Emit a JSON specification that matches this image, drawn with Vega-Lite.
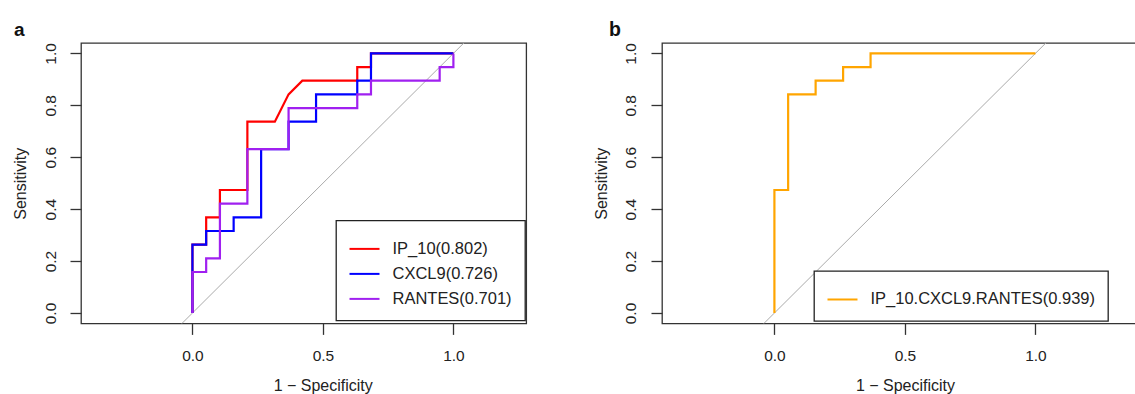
{
  "$schema": "https://vega.github.io/schema/vega-lite/v6.json",
  "background": "white",
  "padding": {"left": 12, "top": 19, "right": 0, "bottom": 0},
  "bounds": "flush",
  "spacing": 135,
  "config": {
    "font": "Liberation Sans",
    "view": {"stroke": "#333333", "strokeWidth": 1.3},
    "axis": {
      "domain": false,
      "grid": false,
      "tickColor": "#333333",
      "tickSize": 11,
      "tickWidth": 1.3,
      "labelFont": "Liberation Sans",
      "labelFontSize": 15.5,
      "labelColor": "#222222",
      "titleFont": "Liberation Sans",
      "titleFontSize": 16,
      "titleFontWeight": "normal",
      "titleColor": "#222222",
      "labelOverlap": false,
      "labelFlush": false
    },
    "legend": {
      "orient": "none",
      "fillColor": "white",
      "strokeColor": "#222222",
      "strokeWidth": 1.3,
      "padding": 12.5,
      "symbolType": "stroke",
      "symbolSize": 900,
      "symbolStrokeWidth": 2,
      "rowPadding": -5,
      "labelFont": "Liberation Sans",
      "labelFontSize": 16.5,
      "labelColor": "#222222",
      "labelOffset": 12,
      "labelLimit": 400
    }
  },
  "resolve": {"scale": {"x": "independent", "y": "independent", "color": "independent"}, "legend": {"color": "independent"}},
  "datasets": {
    "diag": [{"fpr": -0.2, "tpr": -0.2}, {"fpr": 1.3, "tpr": 1.3}],
    "curves": [
      {"series": "IP_10(0.802)", "i": 0, "fpr": 0, "tpr": 0},
      {"series": "IP_10(0.802)", "i": 1, "fpr": 0, "tpr": 0.2632},
      {"series": "IP_10(0.802)", "i": 2, "fpr": 0.0526, "tpr": 0.2632},
      {"series": "IP_10(0.802)", "i": 3, "fpr": 0.0526, "tpr": 0.3684},
      {"series": "IP_10(0.802)", "i": 4, "fpr": 0.1053, "tpr": 0.3684},
      {"series": "IP_10(0.802)", "i": 5, "fpr": 0.1053, "tpr": 0.4737},
      {"series": "IP_10(0.802)", "i": 6, "fpr": 0.2105, "tpr": 0.4737},
      {"series": "IP_10(0.802)", "i": 7, "fpr": 0.2105, "tpr": 0.7368},
      {"series": "IP_10(0.802)", "i": 8, "fpr": 0.3158, "tpr": 0.7368},
      {"series": "IP_10(0.802)", "i": 9, "fpr": 0.3684, "tpr": 0.8421},
      {"series": "IP_10(0.802)", "i": 10, "fpr": 0.4211, "tpr": 0.8947},
      {"series": "IP_10(0.802)", "i": 11, "fpr": 0.6316, "tpr": 0.8947},
      {"series": "IP_10(0.802)", "i": 12, "fpr": 0.6316, "tpr": 0.9474},
      {"series": "IP_10(0.802)", "i": 13, "fpr": 0.6842, "tpr": 0.9474},
      {"series": "IP_10(0.802)", "i": 14, "fpr": 0.6842, "tpr": 1},
      {"series": "IP_10(0.802)", "i": 15, "fpr": 1, "tpr": 1},
      {"series": "CXCL9(0.726)", "i": 0, "fpr": 0, "tpr": 0},
      {"series": "CXCL9(0.726)", "i": 1, "fpr": 0, "tpr": 0.2632},
      {"series": "CXCL9(0.726)", "i": 2, "fpr": 0.0526, "tpr": 0.2632},
      {"series": "CXCL9(0.726)", "i": 3, "fpr": 0.0526, "tpr": 0.3158},
      {"series": "CXCL9(0.726)", "i": 4, "fpr": 0.1579, "tpr": 0.3158},
      {"series": "CXCL9(0.726)", "i": 5, "fpr": 0.1579, "tpr": 0.3684},
      {"series": "CXCL9(0.726)", "i": 6, "fpr": 0.2632, "tpr": 0.3684},
      {"series": "CXCL9(0.726)", "i": 7, "fpr": 0.2632, "tpr": 0.6316},
      {"series": "CXCL9(0.726)", "i": 8, "fpr": 0.3684, "tpr": 0.6316},
      {"series": "CXCL9(0.726)", "i": 9, "fpr": 0.3684, "tpr": 0.7368},
      {"series": "CXCL9(0.726)", "i": 10, "fpr": 0.4737, "tpr": 0.7368},
      {"series": "CXCL9(0.726)", "i": 11, "fpr": 0.4737, "tpr": 0.8421},
      {"series": "CXCL9(0.726)", "i": 12, "fpr": 0.6316, "tpr": 0.8421},
      {"series": "CXCL9(0.726)", "i": 13, "fpr": 0.6316, "tpr": 0.8947},
      {"series": "CXCL9(0.726)", "i": 14, "fpr": 0.6842, "tpr": 0.8947},
      {"series": "CXCL9(0.726)", "i": 15, "fpr": 0.6842, "tpr": 1},
      {"series": "CXCL9(0.726)", "i": 16, "fpr": 1, "tpr": 1},
      {"series": "RANTES(0.701)", "i": 0, "fpr": 0, "tpr": 0},
      {"series": "RANTES(0.701)", "i": 1, "fpr": 0, "tpr": 0.1579},
      {"series": "RANTES(0.701)", "i": 2, "fpr": 0.0526, "tpr": 0.1579},
      {"series": "RANTES(0.701)", "i": 3, "fpr": 0.0526, "tpr": 0.2105},
      {"series": "RANTES(0.701)", "i": 4, "fpr": 0.1053, "tpr": 0.2105},
      {"series": "RANTES(0.701)", "i": 5, "fpr": 0.1053, "tpr": 0.4211},
      {"series": "RANTES(0.701)", "i": 6, "fpr": 0.2105, "tpr": 0.4211},
      {"series": "RANTES(0.701)", "i": 7, "fpr": 0.2105, "tpr": 0.6316},
      {"series": "RANTES(0.701)", "i": 8, "fpr": 0.3684, "tpr": 0.6316},
      {"series": "RANTES(0.701)", "i": 9, "fpr": 0.3684, "tpr": 0.7895},
      {"series": "RANTES(0.701)", "i": 10, "fpr": 0.6316, "tpr": 0.7895},
      {"series": "RANTES(0.701)", "i": 11, "fpr": 0.6316, "tpr": 0.8421},
      {"series": "RANTES(0.701)", "i": 12, "fpr": 0.6842, "tpr": 0.8421},
      {"series": "RANTES(0.701)", "i": 13, "fpr": 0.6842, "tpr": 0.8947},
      {"series": "RANTES(0.701)", "i": 14, "fpr": 0.9474, "tpr": 0.8947},
      {"series": "RANTES(0.701)", "i": 15, "fpr": 0.9474, "tpr": 0.9474},
      {"series": "RANTES(0.701)", "i": 16, "fpr": 1, "tpr": 0.9474},
      {"series": "RANTES(0.701)", "i": 17, "fpr": 1, "tpr": 1},
      {"series": "IP_10.CXCL9.RANTES(0.939)", "i": 0, "fpr": 0, "tpr": 0},
      {"series": "IP_10.CXCL9.RANTES(0.939)", "i": 1, "fpr": 0, "tpr": 0.4737},
      {"series": "IP_10.CXCL9.RANTES(0.939)", "i": 2, "fpr": 0.0526, "tpr": 0.4737},
      {"series": "IP_10.CXCL9.RANTES(0.939)", "i": 3, "fpr": 0.0526, "tpr": 0.8421},
      {"series": "IP_10.CXCL9.RANTES(0.939)", "i": 4, "fpr": 0.1579, "tpr": 0.8421},
      {"series": "IP_10.CXCL9.RANTES(0.939)", "i": 5, "fpr": 0.1579, "tpr": 0.8947},
      {"series": "IP_10.CXCL9.RANTES(0.939)", "i": 6, "fpr": 0.2632, "tpr": 0.8947},
      {"series": "IP_10.CXCL9.RANTES(0.939)", "i": 7, "fpr": 0.2632, "tpr": 0.9474},
      {"series": "IP_10.CXCL9.RANTES(0.939)", "i": 8, "fpr": 0.3684, "tpr": 0.9474},
      {"series": "IP_10.CXCL9.RANTES(0.939)", "i": 9, "fpr": 0.3684, "tpr": 1},
      {"series": "IP_10.CXCL9.RANTES(0.939)", "i": 10, "fpr": 1, "tpr": 1}
    ]
  },
  "hconcat": [
    {
      "width": 445.2,
      "height": 280.4,
      "title": {"text": "a", "anchor": "start", "frame": "group", "dx": -67, "offset": -12.7, "baseline": "alphabetic", "fontSize": 19, "fontWeight": "bold", "color": "#111111", "font": "Liberation Sans"},
      "encoding": {
        "x": {"field": "fpr", "type": "quantitative", "scale": {"domain": [-0.427, 1.279], "nice": false, "zero": false},
              "axis": {"values": [0, 0.5, 1], "format": ".1f", "labelPadding": 14, "title": "1 − Specificity", "titleX": 241.7, "titleY": 67, "titleBaseline": "alphabetic"}},
        "y": {"field": "tpr", "type": "quantitative", "scale": {"domain": [-0.04, 1.04], "nice": false, "zero": false},
              "axis": {"values": [0, 0.2, 0.4, 0.6, 0.8, 1], "format": ".1f", "labelAngle": -90, "labelAlign": "center", "labelBaseline": "bottom", "labelPadding": 12, "title": "Sensitivity", "titleX": -55.3, "titleY": 140.2, "titleBaseline": "alphabetic", "titleAngle": -90, "titleAlign": "center"}}
      },
      "layer": [
        {"data": {"name": "diag"}, "mark": {"type": "line", "clip": true, "color": "#aaaaaa", "strokeWidth": 1}},
        {"data": {"name": "curves"}, "transform": [{"filter": "datum.series === 'IP_10(0.802)'"}],
         "mark": {"type": "line", "strokeWidth": 2.2},
         "encoding": {"order": {"field": "i", "type": "quantitative"},
           "color": {"field": "series", "type": "nominal",
             "scale": {"domain": ["IP_10(0.802)", "CXCL9(0.726)", "RANTES(0.701)"], "range": ["#FF0000", "#0000FF", "#A020F0"]},
             "legend": {"title": null, "orient": "none", "legendX": 255, "legendY": 177.4}}}},
        {"data": {"name": "curves"}, "transform": [{"filter": "datum.series === 'CXCL9(0.726)'"}],
         "mark": {"type": "line", "strokeWidth": 2.2},
         "encoding": {"order": {"field": "i", "type": "quantitative"},
           "color": {"field": "series", "type": "nominal",
             "scale": {"domain": ["IP_10(0.802)", "CXCL9(0.726)", "RANTES(0.701)"], "range": ["#FF0000", "#0000FF", "#A020F0"]}}}},
        {"data": {"name": "curves"}, "transform": [{"filter": "datum.series === 'RANTES(0.701)'"}],
         "mark": {"type": "line", "strokeWidth": 2.2},
         "encoding": {"order": {"field": "i", "type": "quantitative"},
           "color": {"field": "series", "type": "nominal",
             "scale": {"domain": ["IP_10(0.802)", "CXCL9(0.726)", "RANTES(0.701)"], "range": ["#FF0000", "#0000FF", "#A020F0"]}}}}
      ]
    },
    {
      "width": 474.2,
      "height": 280.4,
      "title": {"text": "b", "anchor": "start", "frame": "group", "dx": -53, "offset": -12.7, "baseline": "alphabetic", "fontSize": 19.5, "fontWeight": "bold", "color": "#111111", "font": "Liberation Sans"},
      "encoding": {
        "x": {"field": "fpr", "type": "quantitative", "scale": {"domain": [-0.4307, 1.3861], "nice": false, "zero": false},
              "axis": {"values": [0, 0.5, 1], "format": ".1f", "labelPadding": 14, "title": "1 − Specificity", "titleX": 243, "titleY": 67, "titleBaseline": "alphabetic"}},
        "y": {"field": "tpr", "type": "quantitative", "scale": {"domain": [-0.04, 1.04], "nice": false, "zero": false},
              "axis": {"values": [0, 0.2, 0.4, 0.6, 0.8, 1], "format": ".1f", "labelAngle": -90, "labelAlign": "center", "labelBaseline": "bottom", "labelPadding": 12, "title": "Sensitivity", "titleX": -55.3, "titleY": 140.2, "titleBaseline": "alphabetic", "titleAngle": -90, "titleAlign": "center"}}
      },
      "layer": [
        {"data": {"name": "diag"}, "mark": {"type": "line", "clip": true, "color": "#aaaaaa", "strokeWidth": 1}},
        {"data": {"name": "curves"}, "transform": [{"filter": "datum.series === 'IP_10.CXCL9.RANTES(0.939)'"}],
         "mark": {"type": "line", "strokeWidth": 2.2},
         "encoding": {"order": {"field": "i", "type": "quantitative"},
           "color": {"field": "series", "type": "nominal",
             "scale": {"domain": ["IP_10.CXCL9.RANTES(0.939)"], "range": ["#FFA500"]},
             "legend": {"title": null, "orient": "none", "legendX": 152, "legendY": 228}}}}
      ]
    }
  ]
}
